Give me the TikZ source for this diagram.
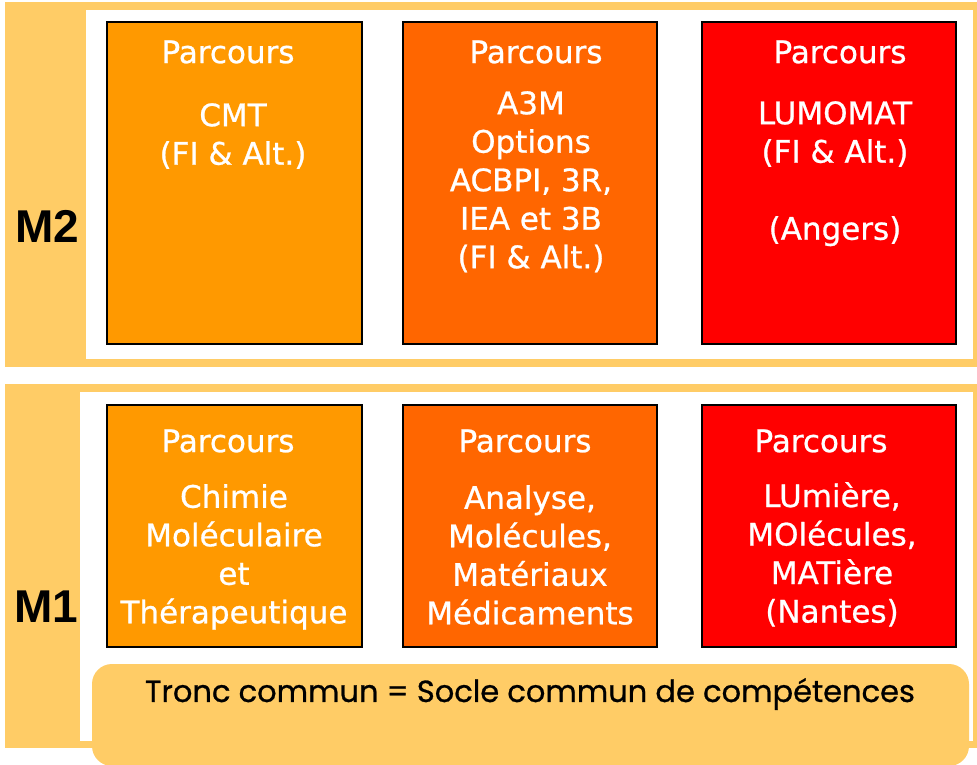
\documentclass[tikz,border=0pt]{standalone}
\usepackage{fontspec}
\usepackage{tikz}
\setmainfont{DejaVu Sans}[FakeBold=0.8]
\newfontfamily\grasfont{Liberation Sans}
\newfontfamily\troncfont{Poppins}[FakeBold=0.8]
\definecolor{orangeclair}{RGB}{255,204,102}
\definecolor{orangeA}{RGB}{255,153,0}
\definecolor{orangeB}{RGB}{255,102,0}
\definecolor{rougeC}{RGB}{255,0,0}

\tikzset{
  boite/.style={draw=black, line width=1.5pt, inner sep=0pt},
  titre/.style={text=white, inner sep=0pt, font=\fontsize{31}{38.5}\selectfont},
  texte/.style={text=white, align=center, anchor=north, inner sep=0pt, font=\fontsize{31}{38.5}\selectfont},
  niveau/.style={inner sep=0pt, font=\grasfont\bfseries\fontsize{46}{46}\selectfont}
}

\begin{document}
\begin{tikzpicture}[x=1pt,y=-1pt]
        \useasboundingbox (0,0) rectangle (977,764);

        % Bandeau M2
        \fill[orangeclair] (5,2) rectangle (977,367);
        \fill[white] (86,10) rectangle (973,359);
        \node[niveau] (m2) at (47,226) {M2};

        % Bandeau M1
        \fill[orangeclair] (5,384) rectangle (977,748);
        \fill[white] (80,392) rectangle (973,741);
        \node[niveau] (m1) at (46,607) {M1};

        % Tronc commun
        \fill[orangeclair, rounded corners=20pt] (92,664) rectangle (969,766);
        \node[font=\troncfont\fontsize{30.5}{30.5}\selectfont, inner sep=0pt] (socle) at (530,694) {Tronc commun = Socle commun de compétences};

        % Parcours du M2
        \node[boite, fill=orangeA, minimum width=255, minimum height=322] (cmt) at (234.5,183) {};
        \node[boite, fill=orangeB, minimum width=254, minimum height=322] (atroism) at (530,183) {};
        \node[boite, fill=rougeC, minimum width=254, minimum height=322] (lumomat) at (829,183) {};

        \node[titre] (tcmt) at (228,52) {Parcours};
        \node[titre] (tatroism) at (536,52) {Parcours};
        \node[titre] (tlumomat) at (840,52) {Parcours};

        \node[texte] (xcmt) at (233,103) {CMT\\(FI \& Alt.)};
        \node[texte] (xatroism) at (531,91) {A3M\\Options\\ACBPI, 3R,\\IEA et 3B\\(FI \& Alt.)};
        \node[texte] (xlumomat) at (835,101) {LUMOMAT\\(FI \& Alt.)\\[38.5pt](Angers)};

        % Parcours du M1
        \node[boite, fill=orangeA, minimum width=255, minimum height=242] (cmth) at (234.5,526) {};
        \node[boite, fill=orangeB, minimum width=254, minimum height=242] (ammm) at (530,526) {};
        \node[boite, fill=rougeC, minimum width=254, minimum height=242] (lumo) at (829,526) {};

        \node[titre] (tcmth) at (228,441) {Parcours};
        \node[titre] (tammm) at (525,441) {Parcours};
        \node[titre] (tlumo) at (821,441) {Parcours};

        \node[texte] (xcmth) at (234,484) {Chimie\\Moléculaire\\et\\Thérapeutique};
        \node[texte] (xammm) at (530,485) {Analyse,\\Molécules,\\Matériaux\\Médicaments};
        \node[texte] (xlumo) at (832,482) {LUmière,\\MOlécules,\\MATière\\(Nantes)};
\end{tikzpicture}
\end{document}
